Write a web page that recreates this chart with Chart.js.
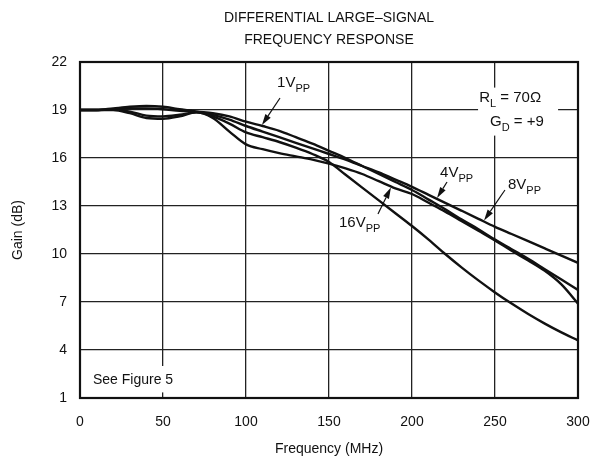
<!DOCTYPE html>
<html>
<head>
<meta charset="utf-8">
<script src="https://cdn.jsdelivr.net/npm/chart.js@4.4.1/dist/chart.umd.min.js"></script>
<style>
  html, body { margin: 0; padding: 0; background: #fff; }
  #wrap { width: 601px; height: 465px; }
</style>
</head>
<body>
<div id="wrap"><canvas id="chart" width="601" height="465"></canvas></div>
<script>
// frequency points (MHz)
const freqs = [0, 10, 20, 30, 40, 50, 60, 70, 80, 90, 100, 110, 120, 130, 140, 150,
  160, 170, 180, 190, 200, 210, 220, 230, 240, 250, 260, 270, 280, 290, 300];

// gain (dB)
const gain1Vpp = [19.0, 19.0, 19.1, 19.2, 19.25, 19.2, 19.05, 18.9, 18.8, 18.6, 18.27, 18.0, 17.7, 17.3, 16.9, 16.45,
  16.0, 15.5, 15.0, 14.5, 14.0, 13.4, 12.8, 12.15, 11.55, 10.9, 10.3, 9.7, 9.05, 8.4, 7.75];
const gain8Vpp = [19.0, 19.0, 19.05, 19.1, 19.1, 19.05, 18.95, 18.9, 18.7, 18.4, 18.0, 17.65, 17.3, 16.95, 16.6, 16.25,
  15.9, 15.5, 15.1, 14.65, 14.2, 13.7, 13.2, 12.7, 12.2, 11.7, 11.25, 10.8, 10.35, 9.9, 9.45];
const gain4Vpp = [19.0, 19.0, 19.05, 18.9, 18.65, 18.6, 18.7, 18.85, 18.6, 18.15, 17.6, 17.3, 17.0, 16.65, 16.25, 15.75,
  14.95, 14.15, 13.35, 12.55, 11.75, 10.9, 10.0, 9.15, 8.35, 7.6, 6.9, 6.25, 5.65, 5.1, 4.6];
const gain16Vpp = [19.0, 19.0, 19.0, 18.8, 18.5, 18.45, 18.6, 18.85, 18.5, 17.65, 16.85, 16.55, 16.3, 16.1, 15.9, 15.65,
  15.35, 15.0, 14.55, 14.1, 13.75, 13.2, 12.65, 12.05, 11.45, 10.85, 10.2, 9.6, 8.95, 8.1, 6.9];

const xTicks = [0, 50, 100, 150, 200, 250, 300];
const yTicks = [1, 4, 7, 10, 13, 16, 19, 22];

const titleLines = ['DIFFERENTIAL LARGE\u2013SIGNAL', 'FREQUENCY RESPONSE'];

// curve labels: text, subscript, text pos, arrow start, arrow tip (data units)
const curveLabels = [
  { main: '1V', sub: 'PP', at: [118.7, 20.69], from: [120.5, 19.75], to: [109.6, 18.06] },
  { main: '4V', sub: 'PP', at: [216.9, 15.06], from: [221.1, 14.5], to: [215.1, 13.5] },
  { main: '8V', sub: 'PP', at: [257.8, 14.3], from: [256.0, 14.0], to: [243.4, 12.1] },
  { main: '16V', sub: 'PP', at: [156.0, 11.94], from: [179.5, 12.5], to: [187.3, 14.15] }
];

const FONT = '"Liberation Sans", Arial, Helvetica, sans-serif';

function pts(ys) {
  return freqs.map((f, i) => ({ x: f, y: ys[i] }));
}

function lineSet(ys) {
  return {
    data: pts(ys),
    borderColor: '#111',
    borderWidth: 2.4,
    pointRadius: 0,
    fill: false,
    cubicInterpolationMode: 'monotone'
  };
}

// draws main text + subscript, returns end x
function drawSub(ctx, x, y, main, sub) {
  ctx.font = '15px ' + FONT;
  ctx.textBaseline = 'middle';
  ctx.textAlign = 'left';
  ctx.fillText(main, x, y);
  const w = ctx.measureText(main).width;
  ctx.font = '11px ' + FONT;
  ctx.fillText(sub, x + w, y + 6);
  return x + w + ctx.measureText(sub).width;
}

function drawArrow(ctx, x1, y1, x2, y2) {
  const ang = Math.atan2(y2 - y1, x2 - x1);
  const len = 11, half = 3.2;
  const bx = x2 - len * Math.cos(ang), by = y2 - len * Math.sin(ang);
  ctx.beginPath();
  ctx.moveTo(x1, y1);
  ctx.lineTo(bx, by);
  ctx.lineWidth = 1.2;
  ctx.stroke();
  ctx.beginPath();
  ctx.moveTo(x2, y2);
  ctx.lineTo(bx + half * Math.sin(ang), by - half * Math.cos(ang));
  ctx.lineTo(bx - half * Math.sin(ang), by + half * Math.cos(ang));
  ctx.closePath();
  ctx.fill();
}

const decor = {
  id: 'decor',
  beforeDatasetsDraw(chart) {
    const { ctx, scales: { x, y } } = chart;
    ctx.save();
    ctx.fillStyle = '#fff';
    // white boxes behind the notes
    ctx.fillRect(x.getPixelForValue(239.8), y.getPixelForValue(20.4),
      x.getPixelForValue(288) - x.getPixelForValue(239.8), y.getPixelForValue(17.4) - y.getPixelForValue(20.4));
    ctx.fillRect(x.getPixelForValue(4.8), y.getPixelForValue(3.0),
      x.getPixelForValue(75.3) - x.getPixelForValue(4.8), y.getPixelForValue(1.35) - y.getPixelForValue(3.0));
    ctx.restore();
  },
  afterDatasetsDraw(chart) {
    const { ctx, chartArea: a, scales: { x, y } } = chart;
    ctx.save();
    // frame
    ctx.strokeStyle = '#111';
    ctx.lineWidth = 2.2;
    ctx.strokeRect(a.left, a.top, a.right - a.left, a.bottom - a.top);

    // title
    ctx.fillStyle = '#111';
    ctx.font = '14px ' + FONT;
    ctx.textAlign = 'center';
    ctx.textBaseline = 'middle';
    const cx = (a.left + a.right) / 2;
    ctx.fillText(titleLines[0], cx, 18);
    ctx.fillText(titleLines[1], cx, 40);

    // notes
    let ex = drawSub(ctx, x.getPixelForValue(240.5), y.getPixelForValue(19.75), 'R', 'L');
    ctx.font = '15px ' + FONT;
    ctx.textBaseline = 'middle';
    ctx.fillText(' = 70\u03A9', ex, y.getPixelForValue(19.75));
    ex = drawSub(ctx, x.getPixelForValue(247), y.getPixelForValue(18.25), 'G', 'D');
    ctx.font = '15px ' + FONT;
    ctx.fillText(' = +9', ex, y.getPixelForValue(18.25));

    ctx.font = '14px ' + FONT;
    ctx.textAlign = 'left';
    ctx.fillText('See Figure 5', x.getPixelForValue(7.8), y.getPixelForValue(2.12));

    ctx.strokeStyle = '#111';
    curveLabels.forEach(l => {
      drawSub(ctx, x.getPixelForValue(l.at[0]), y.getPixelForValue(l.at[1]), l.main, l.sub);
      drawArrow(ctx, x.getPixelForValue(l.from[0]), y.getPixelForValue(l.from[1]),
        x.getPixelForValue(l.to[0]), y.getPixelForValue(l.to[1]));
    });
    ctx.restore();
  }
};

const ctx = document.getElementById('chart').getContext('2d');
new Chart(ctx, {
  type: 'line',
  data: {
    datasets: [lineSet(gain1Vpp), lineSet(gain8Vpp), lineSet(gain4Vpp), lineSet(gain16Vpp)]
  },
  options: {
    responsive: false,
    animation: false,
    layout: { padding: { left: 0, right: 23, top: 62, bottom: 0 } },
    plugins: { legend: { display: false }, tooltip: { enabled: false }, title: { display: false } },
    scales: {
      x: {
        type: 'linear',
        min: 0,
        max: 300,
        afterBuildTicks: s => { s.ticks = xTicks.map(v => ({ value: v })); },
        afterFit: s => { s.height = 67; s.paddingLeft = 0; s.paddingRight = 0; },
        grid: { color: '#222', lineWidth: 1.3, drawTicks: false },
        border: { display: false },
        ticks: { color: '#111', font: { family: FONT, size: 14 }, padding: 16, maxRotation: 0 },
        title: { display: true, text: 'Frequency (MHz)', color: '#111', font: { family: FONT, size: 14 }, padding: { top: 0, bottom: 7 } }
      },
      y: {
        type: 'linear',
        min: 1,
        max: 22,
        afterBuildTicks: s => { s.ticks = yTicks.map(v => ({ value: v })); },
        afterFit: s => { s.width = 80; s.paddingTop = 0; s.paddingBottom = 0; },
        grid: { color: '#222', lineWidth: 1.3, drawTicks: false },
        border: { display: false },
        ticks: { color: '#111', font: { family: FONT, size: 14 }, padding: 13 },
        title: { display: true, text: 'Gain (dB)', color: '#111', font: { family: FONT, size: 14 }, padding: { top: 10, bottom: 0 } }
      }
    }
  },
  plugins: [decor]
});
</script>
</body>
</html>
